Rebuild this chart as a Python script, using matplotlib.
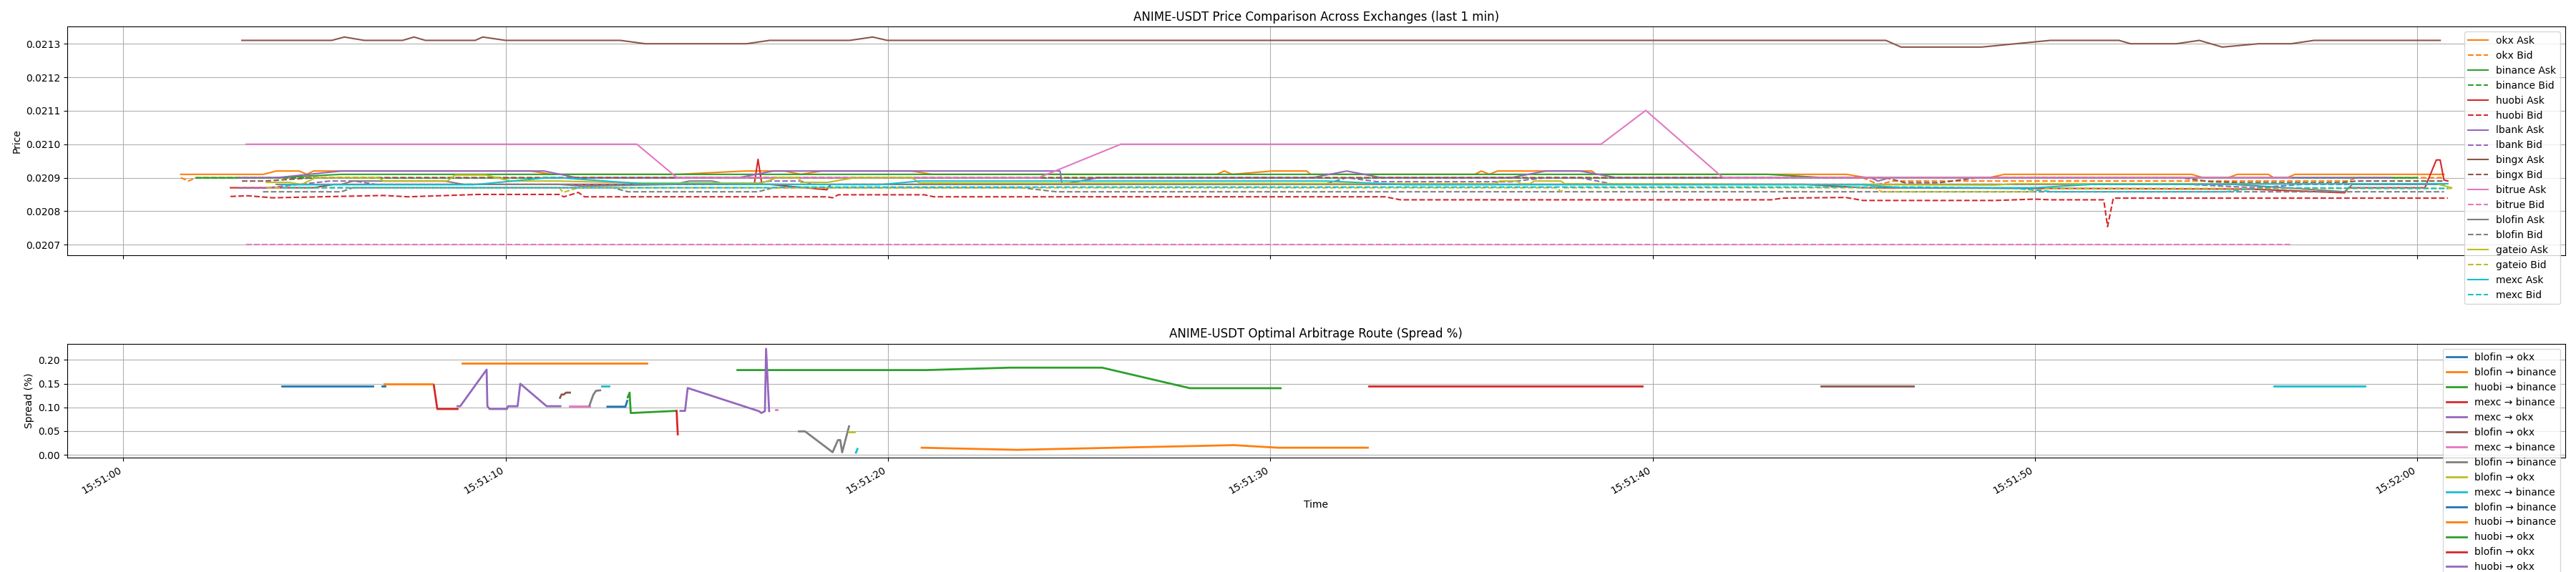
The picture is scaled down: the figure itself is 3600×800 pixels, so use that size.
import matplotlib
matplotlib.use("Agg")
import matplotlib.pyplot as plt
import matplotlib.dates as mdates
import numpy as np
import pandas as pd

BASE = pd.Timestamp("2025-01-01 15:51:00")

# ---- price series: seconds after 15:51:00 and price ----
okx_ask_t = [1.5, 3.66, 4.0, 4.6, 4.8, 4.97, 10.66, 11.2, 14.5, 16.27, 17.29, 17.72, 18.26, 20.62, 21.15,
             28.6, 28.8, 29.0, 30.06, 30.95, 31.05, 35.35, 35.52, 35.73, 35.94, 38.41, 38.52, 45.07, 45.6,
             48.8, 49.2, 54.1, 54.4, 55.05, 55.3, 56.1, 56.25, 56.6, 56.8, 60.7]
okx_ask_p = [0.02091, 0.02091, 0.02092, 0.02092, 0.02091, 0.02092, 0.02092, 0.02091, 0.02091, 0.02092, 0.02092,
             0.02091, 0.02092, 0.02092, 0.02091, 0.02091, 0.02092, 0.02091, 0.02092, 0.02092, 0.02091, 0.02091,
             0.02092, 0.02091, 0.02092, 0.02092, 0.02091, 0.02091, 0.0209, 0.0209, 0.02091, 0.02091, 0.0209,
             0.0209, 0.02091, 0.02091, 0.0209, 0.0209, 0.02091, 0.02091]
okx_bid_t = [1.5, 1.7, 1.9, 45.5, 45.9, 46.3, 58.2, 58.4, 60.7]
okx_bid_p = [0.0209, 0.02089, 0.0209, 0.0209, 0.02088, 0.02089, 0.02089, 0.0209, 0.0209]

binance_ask_t = [1.9, 4.0, 5.7, 43.0, 44.5, 60.0]
binance_ask_p = [0.0209, 0.0209, 0.02091, 0.02091, 0.0209, 0.0209]
binance_bid_t = [1.9, 60.0]
binance_bid_p = [0.0209, 0.0209]

huobi_ask_t = [2.8, 4.97, 5.5, 16.5, 16.6, 16.7, 16.9, 18.4, 18.5, 44.0, 45.5, 55.6, 58.1, 58.2, 60.2, 60.5,
               60.6, 60.7, 60.8]
huobi_ask_p = [0.02087, 0.02087, 0.02088, 0.02088, 0.020955, 0.02088, 0.02088, 0.020864, 0.02088, 0.02088,
               0.02087, 0.020866, 0.020855, 0.02087, 0.02087, 0.020953, 0.020953, 0.020893, 0.02089]
huobi_bid_t = [2.8, 3.26, 3.9, 4.76, 6.8, 7.45, 9.27, 11.4, 11.52, 11.9, 12.06, 18.4, 18.55, 18.7, 20.95, 21.2,
               33.0, 33.4, 43.1, 43.4, 45.05, 45.5, 48.95, 50.0, 50.4, 51.8, 51.9, 52.05, 60.8]
huobi_bid_p = [0.020844, 0.020846, 0.02084, 0.020842, 0.020847, 0.020843, 0.02085, 0.02085, 0.020843, 0.020856,
               0.020843, 0.020843, 0.02084, 0.020849, 0.020849, 0.020843, 0.020843, 0.020834, 0.020834, 0.020839,
               0.020841, 0.020832, 0.020832, 0.020836, 0.020834, 0.020834, 0.020754, 0.020839, 0.020839]

lbank_ask_t = [3.0, 4.0, 5.7, 11.0, 11.85, 16.1, 17.0, 24.5, 24.55, 25.5, 31.1, 32.0, 32.9, 36.3, 37.2, 38.1,
               39.05, 45.7, 45.9, 46.2, 59.3]
lbank_ask_p = [0.0209, 0.0209, 0.02092, 0.02092, 0.0209, 0.0209, 0.02092, 0.02092, 0.02088, 0.0209, 0.0209,
               0.02092, 0.0209, 0.0209, 0.02092, 0.02092, 0.0209, 0.0209, 0.02089, 0.0209, 0.0209]
lbank_bid_t = [3.0, 3.7, 5.4, 6.05, 6.6, 16.4, 16.9, 17.7, 18.1, 31.4, 32.0, 32.8, 36.3, 37.2, 38.1, 39.0,
               54.0, 55.8, 57.0, 60.0]
lbank_bid_p = [0.020869, 0.020869, 0.02089, 0.02089, 0.02088, 0.02088, 0.02089, 0.02089, 0.02088, 0.02088,
               0.0209, 0.020888, 0.020888, 0.0209, 0.0209, 0.02088, 0.02088, 0.02087, 0.02088, 0.02088]

bingx_ask_t = [3.1, 5.45, 5.78, 6.3, 7.3, 7.6, 7.9, 9.2, 9.4, 10.0, 13.0, 13.65, 16.3, 16.9, 19.0, 19.6, 19.98,
               46.1, 46.5, 48.6, 50.4, 52.2, 52.5, 53.7, 54.3, 54.9, 55.85, 56.7, 57.3, 60.6]
bingx_ask_p = [0.02131, 0.02131, 0.02132, 0.02131, 0.02131, 0.02132, 0.02131, 0.02131, 0.02132, 0.02131,
               0.02131, 0.0213, 0.0213, 0.02131, 0.02131, 0.02132, 0.02131, 0.02131, 0.02129, 0.02129, 0.02131,
               0.02131, 0.0213, 0.0213, 0.02131, 0.02129, 0.0213, 0.0213, 0.02131, 0.02131]
bingx_bid_t = [3.1, 3.7, 5.0, 46.1, 46.6, 47.5, 48.5, 53.8, 54.6, 55.5, 58.0, 58.4, 60.7]
bingx_bid_p = [0.02089, 0.02089, 0.0209, 0.0209, 0.020885, 0.020885, 0.0209, 0.0209, 0.020888, 0.020885,
               0.020885, 0.02089, 0.02089]

bitrue_ask_t = [3.21, 13.43, 14.48, 23.94, 26.09, 38.65, 39.82, 41.84, 56.7]
bitrue_ask_p = [0.0210, 0.0210, 0.0209, 0.0209, 0.0210, 0.0210, 0.021101, 0.0209, 0.0209]
bitrue_bid_t = [3.21, 56.7]
bitrue_bid_p = [0.0207, 0.0207]

blofin_ask_t = [4.0, 5.7, 6.0, 8.4, 8.9, 11.4, 12.0, 14.4, 14.8, 15.4, 15.8, 55.2, 58.1, 58.3, 60.7]
blofin_ask_p = [0.02088, 0.02088, 0.02089, 0.02089, 0.02088, 0.02088, 0.020875, 0.02088, 0.02089, 0.02089,
                0.02088, 0.02088, 0.020858, 0.02088, 0.02088]
blofin_bid_t = [3.65, 5.7, 6.0, 12.8, 13.2, 16.6, 17.0, 23.5, 24.4, 60.7]
blofin_bid_p = [0.020858, 0.020858, 0.02087, 0.02087, 0.020858, 0.020858, 0.02087, 0.02087, 0.020858, 0.020858]

gateio_ask_t = [3.74, 4.34, 4.66, 5.03, 6.69, 6.8, 8.47, 8.68, 9.48, 10.13, 11.41, 13.56, 16.65, 16.86, 17.08,
                17.67, 17.72, 18.42, 19.12, 20.62, 20.83, 35.9, 36.0, 36.45, 36.55, 36.8, 36.9, 37.6, 37.7,
                48.96, 49.5, 60.5, 60.9]
gateio_ask_p = [0.020886, 0.020886, 0.02088, 0.0209, 0.0209, 0.02089, 0.02089, 0.020908, 0.020908, 0.02089,
                0.02089, 0.020884, 0.020884, 0.02089, 0.0209, 0.0209, 0.020886, 0.020886, 0.0209, 0.0209,
                0.020884, 0.020882, 0.02089, 0.02089, 0.020882, 0.020882, 0.02089, 0.02089, 0.020882, 0.020878,
                0.020882, 0.020882, 0.02087]
gateio_bid_t = [3.74, 11.4, 11.5, 11.9, 37.5, 37.6, 37.7, 45.8, 46.0, 49.9, 50.3, 60.9]
gateio_bid_p = [0.02087, 0.02087, 0.020856, 0.02087, 0.02087, 0.020858, 0.02087, 0.02087, 0.020858, 0.020858,
                0.020868, 0.020868]

mexc_ask_t = [4.15, 9.16, 11.1, 11.4, 13.56, 19.76, 20.83, 31.5, 33.5, 45.5, 46.5, 50.0, 51.5, 60.8]
mexc_ask_p = [0.020879, 0.020879, 0.0209, 0.0209, 0.020882, 0.020879, 0.02089, 0.02089, 0.020879, 0.020879,
              0.02087, 0.02087, 0.02088, 0.020882]
mexc_bid_t = [4.15, 16.9, 17.3, 47.0, 49.5, 50.5, 55.0, 55.8, 60.8]
mexc_bid_p = [0.02087, 0.02087, 0.020872, 0.020872, 0.020868, 0.020858, 0.020858, 0.02087, 0.020868]

exchanges = ["okx", "binance", "huobi", "lbank", "bingx", "bitrue", "blofin", "gateio", "mexc"]
ask_series = [(okx_ask_t, okx_ask_p), (binance_ask_t, binance_ask_p), (huobi_ask_t, huobi_ask_p),
              (lbank_ask_t, lbank_ask_p), (bingx_ask_t, bingx_ask_p), (bitrue_ask_t, bitrue_ask_p),
              (blofin_ask_t, blofin_ask_p), (gateio_ask_t, gateio_ask_p), (mexc_ask_t, mexc_ask_p)]
bid_series = [(okx_bid_t, okx_bid_p), (binance_bid_t, binance_bid_p), (huobi_bid_t, huobi_bid_p),
              (lbank_bid_t, lbank_bid_p), (bingx_bid_t, bingx_bid_p), (bitrue_bid_t, bitrue_bid_p),
              (blofin_bid_t, blofin_bid_p), (gateio_bid_t, gateio_bid_p), (mexc_bid_t, mexc_bid_p)]

# ---- optimal route segments (spread %) ----
route_labels = ["blofin → okx", "blofin → binance", "huobi → binance", "mexc → binance", "mexc → okx",
                "blofin → okx", "mexc → binance", "blofin → binance", "blofin → okx", "mexc → binance",
                "blofin → binance", "huobi → binance", "huobi → okx", "blofin → okx", "huobi → okx",
                "mexc → binance", "blofin → binance", "blofin → okx", "mexc → binance", "blofin → okx",
                "huobi → binance", "mexc → binance", "blofin → okx", "mexc → binance"]
route_t = [
    [4.14, 6.52],
    [6.82, 8.1],
    [13.19, 13.24, 13.27, 14.45],
    [8.12, 8.21, 8.74],
    [8.74, 8.81, 9.50, 9.52, 9.58, 10.03, 10.06, 10.31, 10.38, 11.07, 11.43],
    [11.42, 11.46, 11.52, 11.58, 11.68],
    [11.67, 12.2],
    [12.19, 12.29, 12.36, 12.47],
    [12.49],
    [12.51, 12.70],
    [12.66, 13.13, 13.17, 13.18],
    [8.87, 13.70],
    [16.06, 21.0, 23.2, 25.6, 27.9, 30.27],
    [14.47, 14.5],
    [14.57, 14.69, 14.76, 16.62, 16.69, 16.78, 16.81, 16.89],
    [17.07, 17.1],
    [17.67, 17.83, 18.55, 18.69, 18.75, 18.8, 18.98],
    [18.97, 19.12],
    [19.16, 19.2],
    [6.77, 6.84],
    [20.88, 23.38, 29.05, 30.2, 32.55],
    [32.58, 39.73],
    [44.4, 46.83],
    [56.25, 58.63],
]
route_v = [
    [0.1448, 0.1448],
    [0.1487, 0.1487],
    [0.121, 0.131, 0.088, 0.0925],
    [0.1463, 0.0965, 0.0965],
    [0.1024, 0.1024, 0.1795, 0.1024, 0.0965, 0.0965, 0.1024, 0.1024, 0.1497, 0.1024, 0.1024],
    [0.12, 0.127, 0.127, 0.131, 0.131],
    [0.1024, 0.1024],
    [0.1039, 0.1263, 0.1348, 0.1358],
    [0.1358],
    [0.1452, 0.1452],
    [0.1014, 0.1014, 0.1113, 0.1138],
    [0.1925, 0.1925],
    [0.1785, 0.1785, 0.1836, 0.1836, 0.1403, 0.1403],
    [0.0925, 0.043],
    [0.0925, 0.0925, 0.1407, 0.092, 0.088, 0.092, 0.2233, 0.092],
    [0.0955, 0.0955],
    [0.0493, 0.0493, 0.0054, 0.031, 0.031, 0.005, 0.060],
    [0.0478, 0.0478],
    [0.0045, 0.0124],
    [0.1448, 0.1448],
    [0.0149, 0.0104, 0.0203, 0.0149, 0.0149],
    [0.1448, 0.1448],
    [0.1448, 0.1448],
    [0.1448, 0.1448],
]

exchange_colors = ["C1", "C2", "C3", "C4", "C5", "C6", "C7", "C8", "C9"]
route_colors = ["C0", "C1", "C2", "C3", "C4", "C5", "C6", "C7", "C8", "C9", "C0", "C1", "C2", "C3", "C4",
                "C6", "C7", "C8", "C9", "C0", "C1", "C3", "C5", "C9"]


def to_time(secs):
    return (BASE + pd.to_timedelta(np.asarray(secs, dtype=float), unit="s")).to_numpy()


fig, (ax1, ax2) = plt.subplots(2, 1, figsize=(36, 8), dpi=100, sharex=True,
                               gridspec_kw={"height_ratios": [2, 1]})
fig.subplots_adjust(left=0.0261, right=0.9958, top=0.9534, bottom=0.1996, hspace=0.517)

for name, color, (ta, pa), (tb, pb) in zip(exchanges, exchange_colors, ask_series, bid_series):
    ax1.plot(to_time(ta), pa, color=color, linestyle="-", label=f"{name} Ask")
    ax1.plot(to_time(tb), pb, color=color, linestyle="--", label=f"{name} Bid")
ax1.set_title("ANIME-USDT Price Comparison Across Exchanges (last 1 min)")
ax1.set_ylabel("Price")
ax1.ticklabel_format(axis="y", useOffset=False)
ax1.grid(True)
ax1.legend(loc="upper right")

for label, color, ts, vs in zip(route_labels, route_colors, route_t, route_v):
    ax2.plot(to_time(ts), vs, color=color, linewidth=2, label=label)
ax2.set_title("ANIME-USDT Optimal Arbitrage Route (Spread %)")
ax2.set_ylabel("Spread (%)")
ax2.set_xlabel("Time")
ax2.grid(True)
ax2.legend(loc="upper right")

ax2.xaxis.set_major_locator(mdates.SecondLocator(bysecond=range(0, 60, 10)))
ax2.xaxis.set_major_formatter(mdates.DateFormatter("%H:%M:%S"))
for lab in ax2.get_xticklabels():
    lab.set_rotation(30)
    lab.set_ha("right")

fig.savefig("out.png", dpi=100)
